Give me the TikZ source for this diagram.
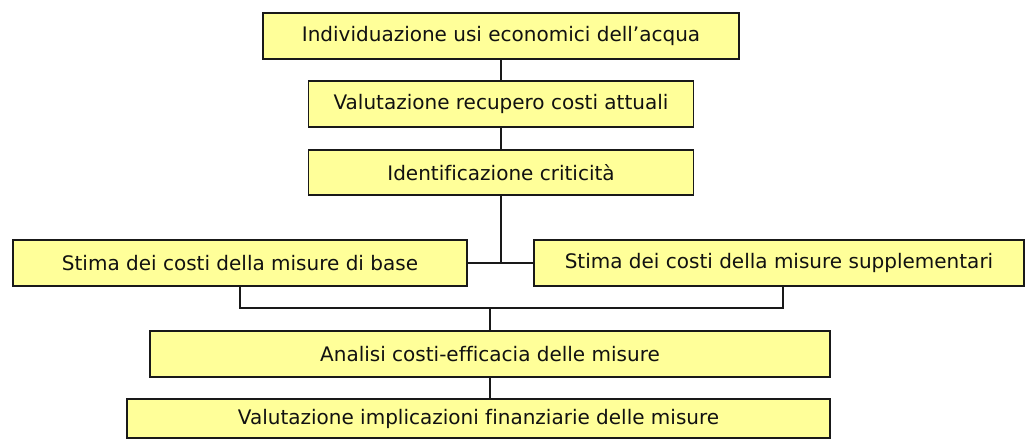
\documentclass[tikz,border=0pt]{standalone}
\usepackage{fontspec}
\setmainfont[Ligatures=NoCommon]{DejaVu Sans}
\usetikzlibrary{shadows}
\definecolor{boxfill}{HTML}{FFFF99}
\definecolor{txt}{HTML}{111111}
\tikzset{
  stepbox/.style={draw=black!90, line width=1.3pt, fill=boxfill, inner sep=0pt,
    text=txt, font=\fontsize{15}{18}\selectfont,
    drop shadow={shadow xshift=0.7pt, shadow yshift=-0.7pt, fill=black!45, opacity=1}},
  conn/.style={draw=black!90, line width=1.4pt}
}
\begin{document}
\begin{tikzpicture}[x=0.75pt, y=-0.75pt]
\useasboundingbox (0,0) rectangle (1026,440);
\node[stepbox, minimum width=476*0.75pt, minimum height=46*0.75pt] (b1) at (501,36) {Individuazione usi economici dell’acqua};
\node[stepbox, minimum width=385*0.75pt, minimum height=46*0.75pt] (b2) at (501,104) {Valutazione recupero costi attuali};
\node[stepbox, minimum width=385*0.75pt, minimum height=45*0.75pt] (b3) at (501,172.5) {Identificazione criticità};
\node[stepbox, minimum width=454*0.75pt, minimum height=46*0.75pt] (b4) at (240,263) {Stima dei costi della misure di base};
\node[stepbox, minimum width=490*0.75pt, minimum height=46*0.75pt] (b5) at (779,263) {Stima dei costi della misure supplementari};
\node[stepbox, minimum width=680*0.75pt, minimum height=46*0.75pt] (b6) at (490,354) {Analisi costi-efficacia delle misure};
\node[stepbox, minimum width=703*0.75pt, minimum height=39*0.75pt] (b7) at (478.5,418.5) {Valutazione implicazioni finanziarie delle misure};
\coordinate (j1) at (501,263);
\coordinate (j2) at (490,308);
\draw[conn] (b1.south) -- (b2.north);
\draw[conn] (b2.south) -- (b3.north);
\draw[conn] (b3.south) -- (j1);
\draw[conn] (b4.east) -- (b5.west);
\draw[conn] (b4.south) |- (j2);
\draw[conn] ([xshift=3pt]b5.south) |- (j2);
\draw[conn] (j2) -- (j2 |- b6.north);
\draw[conn] (b6.south -| j2) -- (j2 |- b7.north);
\end{tikzpicture}
\end{document}
